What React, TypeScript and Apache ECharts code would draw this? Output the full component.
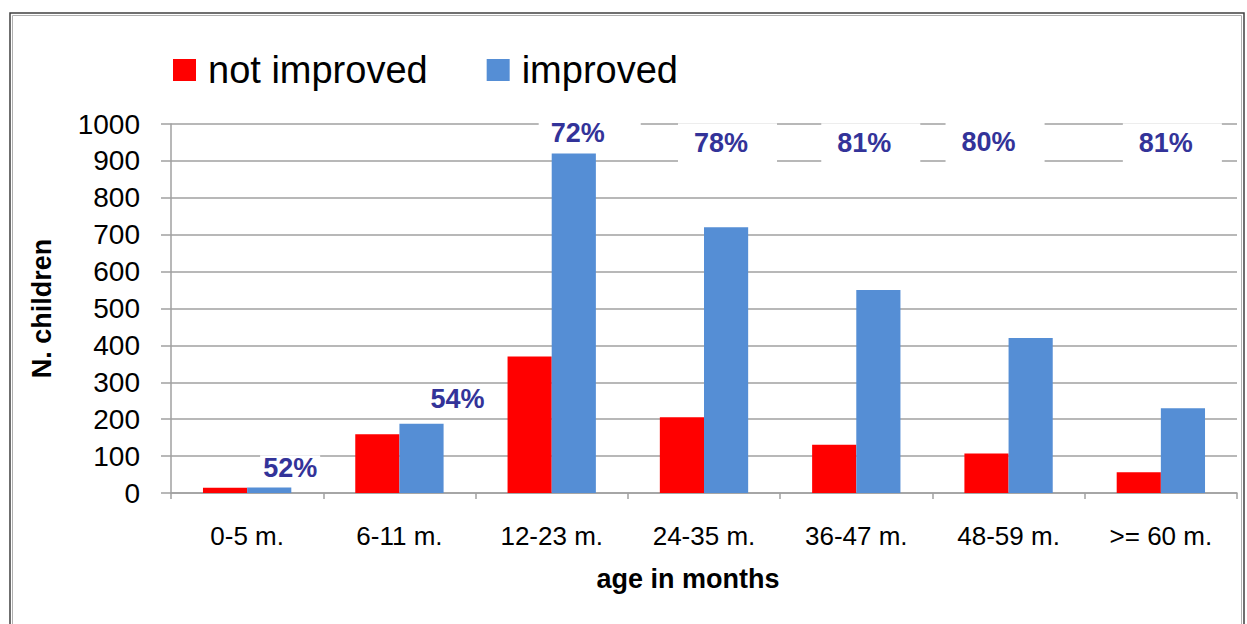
import React, { useEffect, useRef } from "react";
import * as echarts from "echarts";

const categories = ["0-5 m.", "6-11 m.", "12-23 m.", "24-35 m.", "36-47 m.", "48-59 m.", ">= 60 m."];
const notImproved = [14, 159, 370, 205, 131, 107, 56];
const improved = [15, 188, 920, 720, 550, 420, 230];
const pctLabels = ["52%", "54%", "72%", "78%", "81%", "80%", "81%"];
const pctLabelY = [67, 256, 971, 940, 940, 947, 940];

// styling / layout of annotation labels (pixels): [top, right, bottom, left] padding
const pctDx = [43, 58, 26, 17, 8, -20, 5];
const pctPad = [
  [0, 3, 0, 3],
  [0, 3, 0, 3],
  [4, 36, 0, 12],
  [10, 29, 4, 16],
  [10, 29, 4, 16],
  [9, 29, 6, 16],
  [10, 29, 4, 16],
];

const FONT = "'Liberation Sans', Arial, sans-serif";
const GRID_COLOR = "#a0a0a0";

export default function App() {
  const ref = useRef<HTMLDivElement>(null);
  useEffect(() => {
    document.body.style.margin = "0";
    if (!ref.current) return;
    const chart = echarts.init(ref.current, undefined, { renderer: "svg" });
    const labelData = pctLabelY.map((y, i) => {
      const [t, r, b, l] = pctPad[i];
      return {
        value: [i, y],
        label: {
          formatter: pctLabels[i],
          padding: [t, r, b, l],
          offset: [pctDx[i] + (r - l) / 2, (b - t) / 2],
        },
      };
    });
    chart.setOption({
      animation: false,
      textStyle: { fontFamily: FONT },
      grid: { left: 171, right: 10, top: 124, bottom: 131 },
      legend: {
        data: ["not improved", "improved"],
        left: 173,
        top: 51,
        padding: 0,
        itemWidth: 23,
        itemHeight: 22,
        itemGap: 59,
        icon: "rect",
        textStyle: { fontSize: 38, color: "#000", fontFamily: FONT, padding: [0, 0, 0, 7] },
      },
      xAxis: {
        type: "category",
        data: categories,
        axisLine: { lineStyle: { color: GRID_COLOR, width: 1.5 } },
        axisTick: { show: true, length: 6, lineStyle: { color: GRID_COLOR, width: 1.5 } },
        axisLabel: { fontSize: 26, color: "#000", margin: 30, fontFamily: FONT },
        name: "age in months",
        nameLocation: "middle",
        nameGap: 72,
        nameTextStyle: {
          fontSize: 27,
          fontWeight: "bold",
          color: "#000",
          fontFamily: FONT,
          padding: [0, 32, 0, 0],
        },
      },
      yAxis: {
        type: "value",
        min: 0,
        max: 1000,
        interval: 100,
        axisLine: { show: true, lineStyle: { color: GRID_COLOR, width: 1.5 } },
        axisTick: { show: true, length: 10, lineStyle: { color: GRID_COLOR, width: 1.5 } },
        splitLine: { show: true, lineStyle: { color: GRID_COLOR, width: 1.5 } },
        axisLabel: {
          fontSize: 28,
          color: "#000",
          margin: 31,
          fontFamily: FONT,
          formatter: (v: number) => String(v),
        },
        name: "N. children",
        nameLocation: "middle",
        nameGap: 116,
        nameTextStyle: { fontSize: 27, fontWeight: "bold", color: "#000", fontFamily: FONT },
      },
      series: [
        {
          name: "not improved",
          type: "bar",
          data: notImproved,
          barGap: "0%",
          barCategoryGap: "42%",
          itemStyle: { color: "#FF0000" },
        },
        {
          name: "improved",
          type: "bar",
          data: improved,
          itemStyle: { color: "#558ED5" },
        },
        {
          name: "pct",
          type: "scatter",
          data: labelData,
          symbolSize: 0,
          itemStyle: { color: "#ffffff", opacity: 1 },
          z: 5,
          silent: true,
          label: {
            show: true,
            position: "inside",
            fontSize: 27,
            fontWeight: "bold",
            color: "#333399",
            opacity: 1,
            fontFamily: FONT,
            lineHeight: 26,
            backgroundColor: "#ffffff",
          },
        },
      ],
      graphic: [
        {
          type: "rect",
          shape: { x: 10, y: 13, width: 1234, height: 640 },
          style: { fill: "none", stroke: "#404040", lineWidth: 1.5 },
          silent: true,
        },
        {
          type: "rect",
          shape: { x: 12.5, y: 15.5, width: 1229, height: 640 },
          style: { fill: "none", stroke: "#b0b0b0", lineWidth: 1 },
          silent: true,
        },
      ],
    });
    return () => chart.dispose();
  }, []);
  return <div ref={ref} style={{ width: 1247, height: 624 }} />;
}
